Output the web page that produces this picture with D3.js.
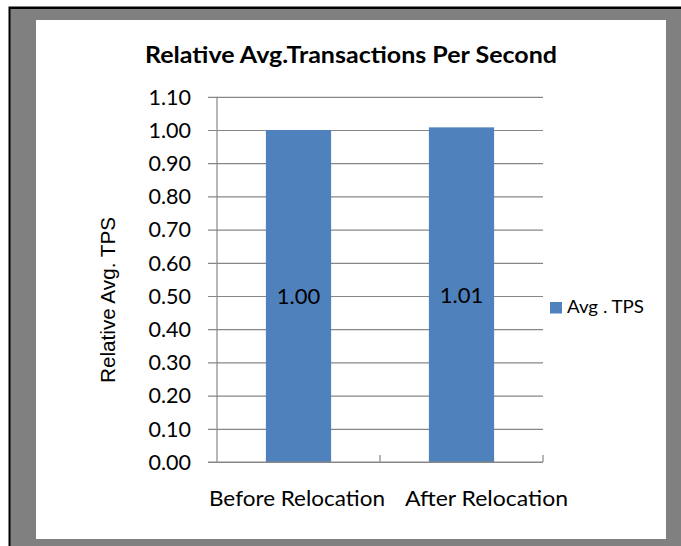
<!DOCTYPE html>
<html><head><meta charset="utf-8">
<script src="https://cdn.jsdelivr.net/npm/d3@7"></script>
<style>html,body{margin:0;padding:0;background:#fff;}svg{display:block;}</style>
</head><body>
<script>
const categories = ["Before Relocation", "After Relocation"];
const values = [1.0, 1.008];
const dataLabels = ["1.00", "1.01"];
const yTickValues = [0, 0.1, 0.2, 0.3, 0.4, 0.5, 0.6, 0.7, 0.8, 0.9, 1.0, 1.1];
const seriesName = "Avg . TPS";
const chartTitle = "Relative Avg.Transactions Per Second";
const yTitle = "Relative Avg. TPS";

const W = 681, H = 546;
const svg = d3.select("body").append("svg").attr("width", W).attr("height", H);

// frame
svg.append("rect").attr("x", 8.5).attr("y", 6.5).attr("width", W).attr("height", H).attr("fill", "#000");
svg.append("rect").attr("x", 10.5).attr("y", 9).attr("width", W).attr("height", H).attr("fill", "#808080");
svg.append("rect").attr("x", 36).attr("y", 20).attr("width", 630).attr("height", 519).attr("fill", "#fff");

const FONT = "Lato, 'Open Sans', sans-serif";
const plotL = 217, plotR = 543, plotT = 96.8, plotB = 462;

const y = d3.scaleLinear().domain([0, 1.1]).range([plotB, plotT]);
const x = d3.scaleBand().domain(categories).range([plotL, plotR]).paddingInner(0.6).paddingOuter(0.3);

const gridColor = "#878787";

// gridlines via axis
const yAxis = d3.axisLeft(y).tickValues(yTickValues).tickSize(-(plotR - plotL)).tickFormat("");
const gy = svg.append("g").attr("transform", `translate(${plotL},0)`).call(yAxis);
gy.select(".domain").remove();
gy.selectAll("line").attr("stroke", gridColor).attr("stroke-width", 1.2).attr("x1", -9).attr("x2", plotR - plotL);

// tick labels
yTickValues.forEach(v => {
  svg.append("text").attr("x", 191).attr("y", y(v)).attr("dy", "0.36em")
    .attr("text-anchor", "end").attr("font-family", FONT).attr("font-size", 21.5)
    .attr("fill", "#000").text(d3.format(".2f")(v));
});

// bars
svg.selectAll("rect.bar").data(values).enter().append("rect").attr("class", "bar")
  .attr("x", (d, i) => x(categories[i])).attr("width", x.bandwidth())
  .attr("y", d => y(d)).attr("height", d => plotB - y(d))
  .attr("fill", "#4F81BD");

// y axis line
svg.append("line").attr("x1", plotL).attr("x2", plotL).attr("y1", plotT).attr("y2", plotB)
  .attr("stroke", gridColor).attr("stroke-width", 1.2);
// x axis line
svg.append("line").attr("x1", plotL - 9).attr("x2", plotR).attr("y1", plotB).attr("y2", plotB)
  .attr("stroke", gridColor).attr("stroke-width", 1.2);
// category separator ticks
const step = x.step();
[1, 2].forEach(k => {
  const xx = plotL + (plotR - plotL) * k / categories.length;
  svg.append("line").attr("x1", xx).attr("x2", xx).attr("y1", plotB - 7).attr("y2", plotB)
    .attr("stroke", gridColor).attr("stroke-width", 1.2);
});

// data labels
values.forEach((v, i) => {
  svg.append("text").attr("x", x(categories[i]) + x.bandwidth() / 2).attr("y", y(v / 2)).attr("dy", "0.36em")
    .attr("text-anchor", "middle").attr("font-family", FONT).attr("font-size", 22)
    .attr("fill", "#000").text(dataLabels[i]);
});

// category labels
const catStart = [209, 405], catLen = [176, 163];
categories.forEach((c, i) => {
  svg.append("text").attr("x", catStart[i]).attr("y", 505.7)
    .attr("font-family", FONT).attr("font-size", 21.5).attr("fill", "#000")
    .attr("textLength", catLen[i]).attr("lengthAdjust", "spacingAndGlyphs").text(c);
});

// title
svg.append("text").attr("x", 145).attr("y", 63.3).attr("font-family", FONT).attr("font-weight", "bold")
  .attr("font-size", 23).attr("fill", "#000").attr("textLength", 412).attr("lengthAdjust", "spacingAndGlyphs")
  .text(chartTitle);

// y title
svg.append("text").attr("transform", "translate(114.7,300) rotate(-90)").attr("text-anchor", "middle")
  .attr("font-family", "'Liberation Sans', Arial, sans-serif").attr("font-size", 19.5).attr("fill", "#000")
  .attr("textLength", 166).attr("lengthAdjust", "spacingAndGlyphs").text(yTitle);

// legend
svg.append("rect").attr("x", 550).attr("y", 302).attr("width", 12).attr("height", 11.5).attr("fill", "#4F81BD");
svg.append("text").attr("x", 567).attr("y", 313.3).attr("font-family", FONT).attr("font-size", 17.5)
  .attr("fill", "#000").attr("textLength", 77).attr("lengthAdjust", "spacingAndGlyphs").text(seriesName);
</script>
</body></html>
